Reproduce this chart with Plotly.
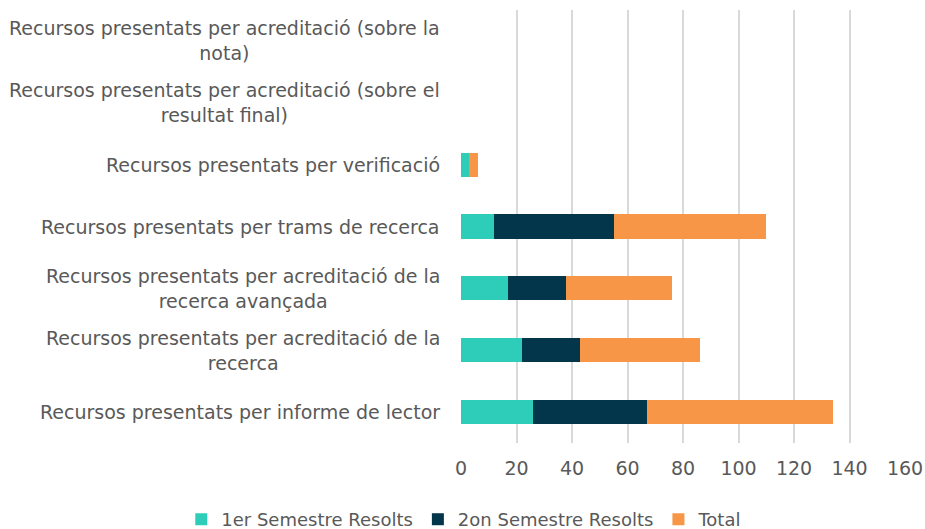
import plotly.graph_objects as go

categories = [
    "Recursos presentats per informe de lector",
    "Recursos presentats per acreditació de la<br>recerca",
    "Recursos presentats per acreditació de la<br>recerca avançada",
    "Recursos presentats per trams de recerca",
    "Recursos presentats per verificació",
    "Recursos presentats per acreditació (sobre el<br>resultat final)",
    "Recursos presentats per acreditació (sobre la<br>nota)",
]
sem1 = [26, 22, 17, 12, 3, 0, 0]
sem2 = [41, 21, 21, 43, 0, 0, 0]
total = [67, 43, 38, 55, 3, 0, 0]
x_ticks = [0, 20, 40, 60, 80, 100, 120, 140, 160]

font_family = "'DejaVu Sans', sans-serif"
txt = "#595959"

fig = go.Figure()
fig.add_trace(go.Bar(y=categories, x=sem1, name="1er Semestre Resolts", orientation="h",
                     marker=dict(color="#2ECDB9", line=dict(width=0))))
fig.add_trace(go.Bar(y=categories, x=sem2, name="2on Semestre Resolts", orientation="h",
                     marker=dict(color="#03364A", line=dict(width=0))))
fig.add_trace(go.Bar(y=categories, x=total, name="Total", orientation="h",
                     marker=dict(color="#F79646", line=dict(width=0))))

for c in categories:
    fig.add_annotation(x=0, xref="paper", xanchor="right", xshift=-19,
                       y=c, yref="y", yanchor="middle", text=c, showarrow=False,
                       align="center", font=dict(size=19, color=txt, family=font_family))

fig.update_layout(
    barmode="stack",
    bargap=0.61,
    width=925, height=529,
    margin=dict(l=461, r=20, t=10, b=86, autoexpand=False),
    paper_bgcolor="white", plot_bgcolor="white",
    font=dict(family=font_family, color=txt, size=18),
    legend=dict(orientation="h", xref="paper", x=-0.63, xanchor="left",
                yref="paper", y=-0.134, yanchor="top",
                font=dict(size=18, color=txt), traceorder="normal"),
    xaxis=dict(range=[0, 160], tickvals=x_ticks, showgrid=True, gridcolor="#D9D9D9",
               gridwidth=2, zeroline=False, tickfont=dict(size=19, color=txt),
               ticks="", ticklabelstandoff=12, automargin=False),
    yaxis=dict(showgrid=False, zeroline=False, showticklabels=False,
               ticks="", automargin=False),
)
fig.write_html("out.html", config={"displayModeBar": False},
               post_script="document.body.style.margin='0';")
